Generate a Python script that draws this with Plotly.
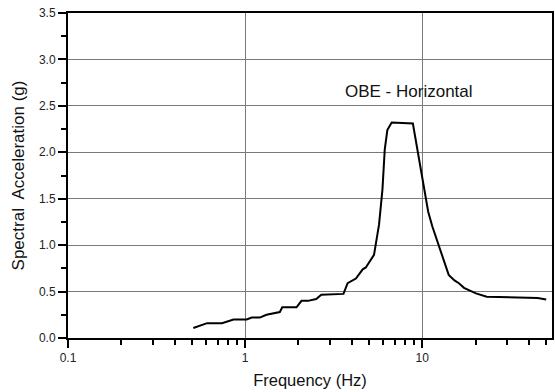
import plotly.graph_objects as go
import numpy as np

freq_hz = [0.51, 0.61, 0.74, 0.86, 1.02, 1.09, 1.21, 1.32, 1.57, 1.62, 1.95, 2.08, 2.26, 2.52,
           2.69, 3.59, 3.79, 4.22, 4.61, 4.8, 5.34, 5.7, 5.96, 6.14, 6.35, 6.72, 8.85, 9.6,
           10.2, 10.8, 11.4, 12.0, 14.1, 15.2, 16.1, 17.2, 20.1, 23.1, 36.3, 44.8, 50.1]
accel_g = [0.108, 0.16, 0.16, 0.20, 0.20, 0.22, 0.22, 0.25, 0.28, 0.33, 0.33, 0.40, 0.40, 0.42,
           0.465, 0.475, 0.59, 0.64, 0.74, 0.76, 0.895, 1.22, 1.6, 2.03, 2.24, 2.32, 2.31, 1.92,
           1.67, 1.36, 1.2, 1.07, 0.68, 0.62, 0.59, 0.54, 0.48, 0.445, 0.43, 0.43, 0.415]
x_tickvals = [0.1, 1, 10]
x_ticktext = ["0.1", "1", "10"]
x_minor_ticks = [0.2, 0.3, 0.4, 0.5, 0.6, 0.7, 0.8, 0.9, 2, 3, 4, 5, 6, 7, 8, 9, 20, 30, 40, 50]
y_tickvals = [0.0, 0.5, 1.0, 1.5, 2.0, 2.5, 3.0, 3.5]
y_ticktext = ["0.0", "0.5", "1.0", "1.5", "2.0", "2.5", "3.0", "3.5"]
label_text = "OBE - Horizontal"

x_range = [-1, np.log10(54)]

fig = go.Figure()
fig.add_trace(go.Scatter(x=freq_hz, y=accel_g, mode="lines",
                         line=dict(color="black", width=2), showlegend=False))

fig.add_annotation(x=np.log10(8.4), y=2.65, xref="x", yref="y", text=label_text,
                   showarrow=False, font=dict(family="Liberation Sans, Arial", size=17, color="#111"))

fig.update_layout(
    width=555, height=392,
    margin=dict(l=68, r=1, t=13, b=54),
    paper_bgcolor="white", plot_bgcolor="white",
    font=dict(family="Liberation Sans, Arial", size=12, color="#222"),
)
fig.update_xaxes(
    type="log", range=x_range,
    tickmode="array", tickvals=x_tickvals, ticktext=x_ticktext,
    ticks="outside", ticklen=8, tickwidth=1.6, tickcolor="black",
    showline=True, linecolor="black", linewidth=2, mirror=True,
    showgrid=True, gridcolor="#7a7a7a", gridwidth=1,
    minor=dict(tickmode="array", tickvals=x_minor_ticks, ticks="outside", ticklen=5,
               tickwidth=1.6, tickcolor="black", showgrid=False),
    tickfont=dict(size=12, color="#222"),
    title=dict(text="Frequency (Hz)", font=dict(family="Liberation Sans, Arial", size=16.5, color="#111"),
               standoff=10),
    zeroline=False,
)
fig.update_yaxes(
    range=[0, 3.5], tickvals=y_tickvals, ticktext=y_ticktext,
    ticks="outside", ticklen=8, tickwidth=1.6, tickcolor="black",
    showline=True, linecolor="black", linewidth=2, mirror=True,
    showgrid=True, gridcolor="#7a7a7a", gridwidth=1,
    minor=dict(dtick=0.25, ticks="outside", ticklen=5, tickwidth=1.6, tickcolor="black",
               showgrid=False),
    tickfont=dict(size=12, color="#222"),
    title=dict(text="Spectral  Acceleration (g)", font=dict(family="Liberation Sans, Arial", size=17, color="#111"),
               standoff=10),
    zeroline=False,
)

fig.write_html("out.html")
